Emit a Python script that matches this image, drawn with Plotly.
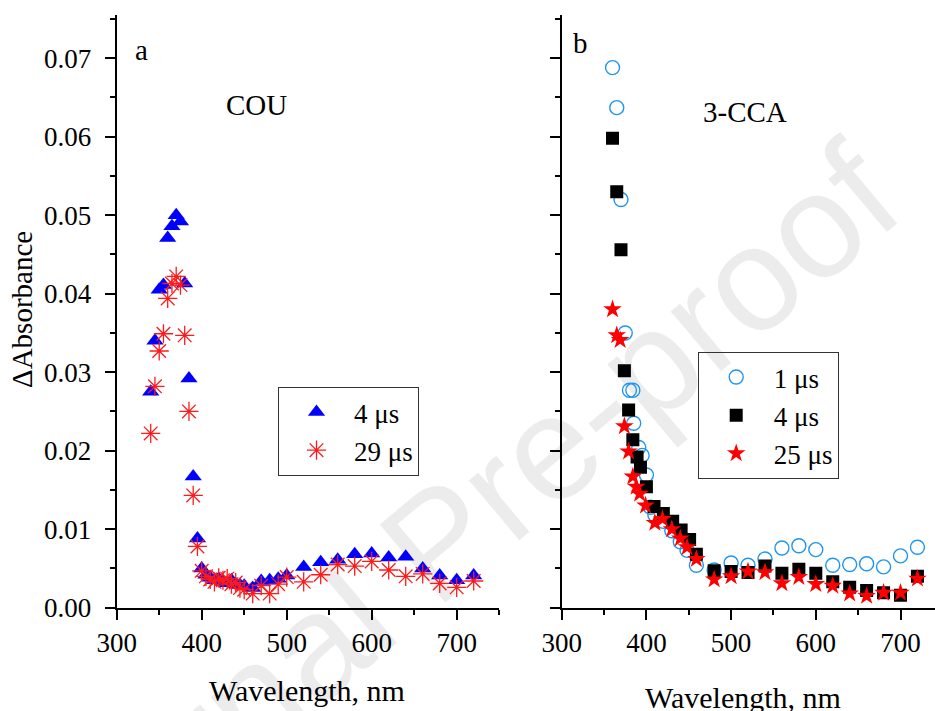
import plotly.graph_objects as go

# ---------------- data ----------------
# Panel a: COU
wl_a = [340, 345, 350, 355, 360, 365, 370, 375, 380, 385,
        390, 395, 400, 405, 410, 415, 420, 425, 430, 435,
        440, 445, 450, 460, 470, 480, 490, 500, 520, 540,
        560, 580, 600, 620, 640, 660, 680, 700, 720]
cou_4us = [0.0275, 0.0340, 0.0405, 0.0411, 0.0471, 0.0486, 0.0500, 0.0492, 0.0413, 0.0292,
           0.0167, 0.0088, 0.0050, 0.0042, 0.0038, 0.0035, 0.0037, 0.0033, 0.0031, 0.0035,
           0.0030, 0.0029, 0.0028, 0.0025, 0.0034, 0.0035, 0.0037, 0.0041, 0.0052, 0.0058,
           0.0061, 0.0068, 0.0069, 0.0064, 0.0065, 0.0050, 0.0041, 0.0035, 0.0041]
cou_29us = [0.0222, 0.0282, 0.0327, 0.0349, 0.0394, 0.0413, 0.0422, 0.0411, 0.0347, 0.0250,
            0.0143, 0.0078, 0.0047, 0.0040, 0.0036, 0.0033, 0.0038, 0.0035, 0.0037, 0.0030,
            0.0032, 0.0025, 0.0023, 0.0018, 0.0028, 0.0018, 0.0030, 0.0039, 0.0033, 0.0042,
            0.0055, 0.0053, 0.0059, 0.0048, 0.0040, 0.0043, 0.0031, 0.0026, 0.0034]

# Panel b: 3-CCA
wl_1us = [360, 365, 370, 375, 380, 384, 385, 391, 395, 400,
          405, 410, 420, 430, 440, 448, 459,
          480, 500, 520, 540, 560, 580, 600, 620, 640, 660, 680, 700, 720]
cca_1us = [0.0688, 0.0637, 0.0520, 0.0350, 0.0277, 0.0277, 0.0235, 0.0204, 0.0194, 0.0169,
           0.0128, 0.0118, 0.0110, 0.0098, 0.0084, 0.0073, 0.0054,
           0.0048, 0.0057, 0.0054, 0.0062, 0.0076, 0.0079, 0.0074, 0.0054, 0.0055, 0.0056, 0.0052, 0.0066, 0.0077]

wl_4us = [360, 365, 370, 374, 379, 384, 389, 393, 400, 409,
          420, 431, 441, 451, 459,
          480, 500, 520, 540, 560, 580, 600, 620, 640, 660, 680, 700, 720]
cca_4us = [0.0598, 0.0530, 0.0456, 0.0302, 0.0252, 0.0214, 0.0192, 0.0179, 0.0154, 0.0129,
           0.0120, 0.0110, 0.0099, 0.0087, 0.0068,
           0.0047, 0.0046, 0.0045, 0.0053, 0.0044, 0.0049, 0.0044, 0.0033, 0.0026, 0.0022, 0.0019, 0.0016, 0.0040]

wl_25us = [360, 365, 369, 374, 379, 384, 388, 392, 399, 410,
           419, 430, 440, 448, 459,
           480, 500, 520, 540, 560, 580, 600, 620, 640, 660, 680, 700, 720]
cca_25us = [0.0380, 0.0347, 0.0341, 0.0231, 0.0199, 0.0167, 0.0154, 0.0145, 0.0130, 0.0108,
            0.0113, 0.0100, 0.0088, 0.0077, 0.0062,
            0.0036, 0.0040, 0.0046, 0.0045, 0.0031, 0.0039, 0.0030, 0.0028, 0.0018, 0.0015, 0.0019, 0.0019, 0.0037]

x_ticks = [300, 400, 500, 600, 700]
y_ticks = [0.00, 0.01, 0.02, 0.03, 0.04, 0.05, 0.06, 0.07]
y_tick_labels = ["0.00", "0.01", "0.02", "0.03", "0.04", "0.05", "0.06", "0.07"]

# ---------------- figure ----------------
W, H = 935, 711
SERIF = "Liberation Serif"

fig = go.Figure()

fig.add_trace(go.Scatter(x=wl_a, y=cou_4us, mode="markers", name="4 μs",
                         marker=dict(symbol="triangle-up", size=15, color="#0000FF", line=dict(width=0)),
                         xaxis="x", yaxis="y", legend="legend"))
fig.add_trace(go.Scatter(x=wl_a, y=cou_29us, mode="markers", name="29 μs",
                         marker=dict(symbol="asterisk-open", size=16, color="#FF1A1A",
                                     line=dict(width=1.3, color="#FF1A1A")),
                         xaxis="x", yaxis="y", legend="legend"))

fig.add_trace(go.Scatter(x=wl_1us, y=cca_1us, mode="markers", name="1 μs",
                         marker=dict(symbol="circle-open", size=14, color="#1E96F0",
                                     line=dict(width=1.4, color="#1E96F0")),
                         xaxis="x2", yaxis="y2", legend="legend2"))
fig.add_trace(go.Scatter(x=wl_4us, y=cca_4us, mode="markers", name="4 μs",
                         marker=dict(symbol="square", size=13, color="#000000", line=dict(width=0)),
                         xaxis="x2", yaxis="y2", legend="legend2"))
fig.add_trace(go.Scatter(x=wl_25us, y=cca_25us, mode="markers", name="25 μs",
                         marker=dict(symbol="star", size=14, color="#FF0000", line=dict(width=0)),
                         xaxis="x2", yaxis="y2", legend="legend2"))

y0px, ytop = 607.7, 15.0
ydom = [(H - y0px) / H, (H - ytop) / H]
yr = [0, (y0px - ytop) / 78.5 * 0.01]

common_x = dict(showline=True, linecolor="black", linewidth=2, mirror=False, automargin=False,
                ticks="outside", ticklen=10, tickwidth=2, tickcolor="black",
                tickvals=x_ticks, showgrid=False, zeroline=False,
                tickfont=dict(family=SERIF, size=27, color="black"),
                minor=dict(ticks="outside", ticklen=5, tickwidth=2, tickcolor="black",
                           dtick=50, tick0=300, showgrid=False))
common_y = dict(showline=True, linecolor="black", linewidth=2, mirror=False, automargin=False,
                ticks="outside", ticklen=10, tickwidth=2, tickcolor="black",
                tickvals=y_ticks, ticktext=y_tick_labels, showgrid=False, zeroline=False,
                range=yr, domain=ydom, ticklabelstandoff=8,
                tickfont=dict(family=SERIF, size=27, color="black"),
                minor=dict(ticks="outside", ticklen=5, tickwidth=2, tickcolor="black",
                           dtick=0.005, tick0=0, showgrid=False))

legend_common = dict(bordercolor="#333333", borderwidth=1, bgcolor="rgba(255,255,255,0)",
                     font=dict(family=SERIF, size=27, color="black"),
                     xanchor="left", yanchor="top", itemwidth=65,
                     traceorder="normal")

fig.update_layout(
    width=W, height=H,
    margin=dict(l=0, r=0, t=0, b=0, autoexpand=False),
    paper_bgcolor="white", plot_bgcolor="rgba(0,0,0,0)",
    showlegend=True,
    xaxis=dict(common_x, domain=[116.7 / W, 499.2 / W], range=[300, 750], anchor="y"),
    yaxis=dict(common_y, anchor="x"),
    xaxis2=dict(common_x, domain=[561.7 / W, 1.0], range=[300, 300 + (W - 561.7) / 84.7 * 100], anchor="y2"),
    yaxis2=dict(common_y, anchor="x2", showticklabels=False),
    legend=dict(legend_common, x=278 / W, y=1 - 387 / H, tracegroupgap=1),
    legend2=dict(legend_common, x=697.7 / W, y=1 - 352 / H, tracegroupgap=5),
)

# watermark (behind data)
fig.add_shape(type="line", xref="paper", yref="paper",
              x0=0.415, y0=0.08, x1=0.615, y1=0.24, layer="below",
              line=dict(color="rgba(0,0,0,0)", width=0),
              label=dict(text="Journal Pre-proof", textangle=-40, textposition="middle",
                         font=dict(family="Liberation Sans, Arial, sans-serif", size=148, color="#ECECEC")))

def txt(s, x, y, size=29, angle=0):
    fig.add_annotation(text=s, x=x / W, y=1 - y / H, xref="paper", yref="paper",
                       showarrow=False, textangle=angle, xanchor="center", yanchor="middle",
                       font=dict(family=SERIF, size=size, color="black"))

txt("a", 141, 50)
txt("COU", 256, 105)
txt("b", 580, 43)
txt("3-CCA", 745, 112)
txt("Wavelength, nm", 307, 690, size=30)
txt("Wavelength, nm", 743, 697, size=30)
txt("ΔAbsorbance", 22, 310, size=29, angle=-90)

fig.write_html("out.html", config={"displayModeBar": False},
               post_script="document.body.style.margin='0';document.body.style.overflow='hidden';")
